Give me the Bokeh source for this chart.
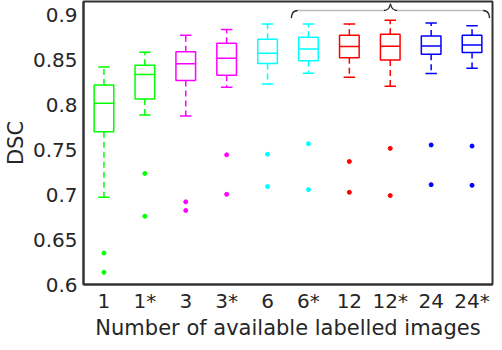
from bokeh.plotting import figure
from bokeh.models import Range1d, FixedTicker
from bokeh.embed import file_html
from bokeh.resources import INLINE

cats = ["1", "1*", "3", "3*", "6", "6*", "12", "12*", "24", "24*"]
colors = ["#00ff00", "#00ff00", "#ff00ff", "#ff00ff", "#00ffff", "#00ffff",
          "#ff0000", "#ff0000", "#0000ff", "#0000ff"]
upper_whisker = [0.842, 0.8586, 0.8774, 0.8837, 0.890, 0.890, 0.890, 0.894, 0.891, 0.888]
q3 = [0.822, 0.844, 0.859, 0.8686, 0.873, 0.8752, 0.8774, 0.8785, 0.8766, 0.8774]
median = [0.8017, 0.8337, 0.8458, 0.8517, 0.8575, 0.862, 0.8649, 0.8652, 0.8656, 0.8667]
q1 = [0.770, 0.8064, 0.827, 0.8329, 0.8461, 0.849, 0.8524, 0.850, 0.8564, 0.8583]
lower_whisker = [0.697, 0.7887, 0.7876, 0.8196, 0.8233, 0.835, 0.8307, 0.8208, 0.8348, 0.8406]
outlier_hi = [0.635, 0.7236, 0.692, 0.7443, 0.745, 0.7567, 0.7369, 0.7515, 0.7553, 0.7541]
outlier_lo = [0.6136, 0.676, 0.6824, 0.7004, 0.709, 0.7056, 0.7026, 0.699, 0.7111, 0.7104]
yticks = [0.6, 0.65, 0.7, 0.75, 0.8, 0.85, 0.9]
brace_from, brace_to = "6*", "24*"

FONT = "DejaVu Sans"
TXT = "#262626"

xs = list(range(1, len(cats) + 1))

p = figure(width=494, height=342, output_backend="svg", toolbar_location=None,
           x_range=Range1d(0.5, len(cats) + 0.5), y_range=Range1d(0.6, 0.915),
           min_border_left=0, min_border_right=2, min_border_top=1, min_border_bottom=0)
p.xgrid.visible = False
p.ygrid.visible = False
p.outline_line_color = "#333333"
p.outline_line_width = 2
p.background_fill_color = "white"
p.border_fill_color = "white"

for ax in (p.xaxis[0], p.yaxis[0]):
    ax.axis_line_color = "#333333"
    ax.axis_line_width = 2
    ax.major_tick_line_color = None
    ax.minor_tick_line_color = None
    ax.major_tick_out = 0
    ax.major_tick_in = 0
    ax.major_label_text_font = FONT
    ax.major_label_text_font_size = "20px"
    ax.major_label_text_color = TXT
    ax.axis_label_text_font = FONT
    ax.axis_label_text_font_size = "21px"
    ax.axis_label_text_font_style = "normal"
    ax.axis_label_text_color = TXT

p.xaxis.ticker = FixedTicker(ticks=xs)
p.xaxis.major_label_overrides = {x: c for x, c in zip(xs, cats)}
p.xaxis.major_label_standoff = 4
p.xaxis.axis_label = "Number of available labelled images"
p.xaxis.axis_label_standoff = 0
p.yaxis.ticker = FixedTicker(ticks=yticks)
p.yaxis.major_label_overrides = {t: ("%g" % t) for t in yticks}
p.yaxis.major_label_standoff = 6
p.yaxis.axis_label = "DSC"
p.yaxis.axis_label_standoff = 2

bw = 0.48
cw = 0.28
for i, x in enumerate(xs):
    c = colors[i]
    p.segment(x0=[x, x], y0=[q3[i], q1[i]], x1=[x, x], y1=[upper_whisker[i], lower_whisker[i]],
              line_color=c, line_width=1.5, line_dash="6 4")
    p.segment(x0=[x - cw / 2] * 2, y0=[upper_whisker[i], lower_whisker[i]],
              x1=[x + cw / 2] * 2, y1=[upper_whisker[i], lower_whisker[i]],
              line_color=c, line_width=1.5)
    p.quad(left=[x - bw / 2], right=[x + bw / 2], bottom=[q1[i]], top=[q3[i]],
           fill_color=None, line_color=c, line_width=1.5)
    p.segment(x0=[x - bw / 2], y0=[median[i]], x1=[x + bw / 2], y1=[median[i]],
              line_color=c, line_width=1.5)
    p.scatter(x=[x, x], y=[outlier_hi[i], outlier_lo[i]], size=4, color=c)

# brace above the last groups
xl = xs[cats.index(brace_from)] - 0.42
xr = xs[cats.index(brace_to)] + 0.43
xm = (xl + xr) / 2
yb, ye, yp = 0.905, 0.8965, 0.9125
p.quadratic(x0=[xl, xr], y0=[ye, ye], x1=[xl + 0.16, xr - 0.16], y1=[yb, yb],
            cx=[xl + 0.01, xr - 0.01], cy=[yb, yb], line_color="#222222", line_width=1.3)
p.segment(x0=[xl + 0.16, xm + 0.16], y0=[yb, yb], x1=[xm - 0.16, xr - 0.16], y1=[yb, yb],
          line_color="#bbbbbb", line_width=1.3)
p.quadratic(x0=[xm - 0.16, xm + 0.16], y0=[yb, yb], x1=[xm, xm], y1=[yp, yp],
            cx=[xm - 0.03, xm + 0.03], cy=[yb, yb], line_color="#222222", line_width=1.3)

open("out.html", "w").write(file_html(p, INLINE))
